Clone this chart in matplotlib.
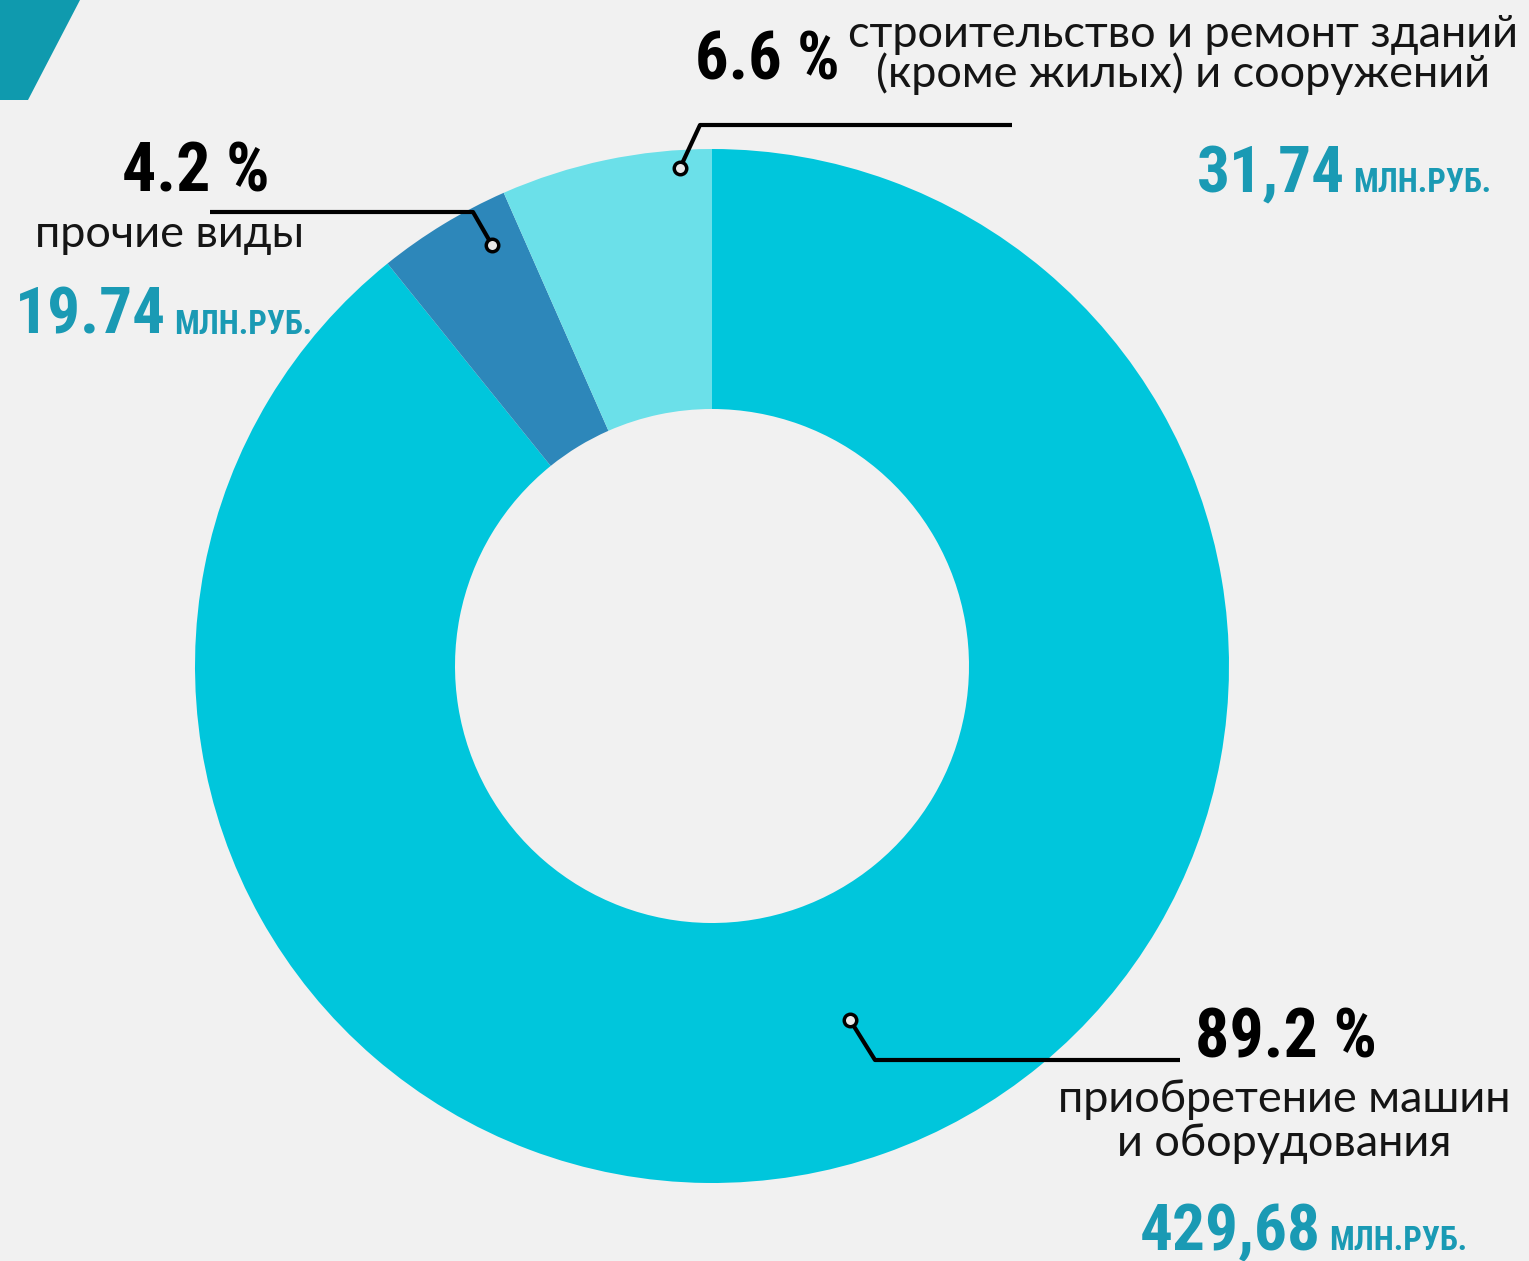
import matplotlib.pyplot as plt
from matplotlib import font_manager as fm
from matplotlib.patches import Polygon

W, H = 1529, 1261

# data
categories = [
    ["приобретение машин", "и оборудования"],
    ["прочие виды"],
    ["строительство и ремонт зданий", "(кроме жилых) и сооружений"],
]
shares = [89.2, 4.2, 6.6]
amounts = ["429,68", "19.74", "31,74"]
share_labels = ["89.2 %", "4.2 %", "6.6 %"]
unit = "МЛН.РУБ."
colors = ["#00C6DC", "#2D87BA", "#6BE0E9"]

TEAL = "#1A9AB4"

names = {f.name for f in fm.fontManager.ttflist}


def pick(cands):
    for c in cands:
        if c in names:
            return c
    return "DejaVu Sans"


COND = pick(["Liberation Sans Narrow", "DejaVu Sans Condensed", "Roboto Condensed"])
LIGHT = ["Lato", "Open Sans", "DejaVu Sans"]


def Y(py):
    return H - py


fig = plt.figure(figsize=(W / 100, H / 100), dpi=100)
fig.patch.set_facecolor("#F1F1F1")
ax = fig.add_axes([0, 0, 1, 1])
ax.set_facecolor("#F1F1F1")

ax.pie(shares, colors=colors, startangle=90, counterclock=False,
       center=(712, Y(666)), radius=517,
       wedgeprops=dict(width=260, edgecolor="none"))
ax.set_xlim(0, W)
ax.set_ylim(0, H)
ax.set_aspect("equal")
ax.axis("off")

# teal corner shape
ax.add_patch(Polygon([(0, Y(0)), (80, Y(0)), (28, Y(100)), (0, Y(100))],
                     closed=True, facecolor="#0F9AAE", edgecolor="none"))

# leader lines
leaders = [
    [(850, 1020), (875, 1060), (1180, 1060)],
    [(492, 245), (473, 212), (210, 212)],
    [(680, 168), (700, 125), (1012, 125)],
]
for pts in leaders:
    xs = [p[0] for p in pts]
    ys = [Y(p[1]) for p in pts]
    ax.plot(xs, ys, color="black", lw=3, solid_capstyle="butt", zorder=4)
    ax.plot(xs[0], ys[0], "o", ms=9, mfc="#E8E8E8", mec="black", mew=2.5, zorder=5)

# percentages
pct_pos = [(1195, 1057, 49), (122, 192, 49), (695, 80, 48)]
for lab, (x, y, s) in zip(share_labels, pct_pos):
    ax.text(x, Y(y), lab, family=COND, weight="bold", fontsize=s,
            color="black", ha="left", va="baseline")

# category names, one text per line
cat_pos = [(1284, [1112, 1156], "center"), (35, [247], "left"),
           (1183, [47, 87], "center")]
for lines, (x, ys, ha) in zip(categories, cat_pos):
    for line, y in zip(lines, ys):
        ax.text(x, Y(y), line, family=LIGHT, weight="normal", fontsize=32.5,
                color="#151515", ha=ha, va="baseline")

# amounts followed by unit
amt_pos = [(1140, 1250), (15, 334), (1197, 192)]
for lab, (x, y) in zip(amounts, amt_pos):
    num = ax.text(x, Y(y), lab, family=COND, weight="bold", fontsize=47,
                  color=TEAL, ha="left", va="baseline")
    ax.annotate(unit, xy=(1, Y(y)), xycoords=(num, "data"),
                xytext=(6, 0), textcoords="offset points",
                family=COND, weight="bold", fontsize=23.5,
                color=TEAL, ha="left", va="baseline")

fig.savefig("out.png", dpi=100, facecolor=fig.get_facecolor())
